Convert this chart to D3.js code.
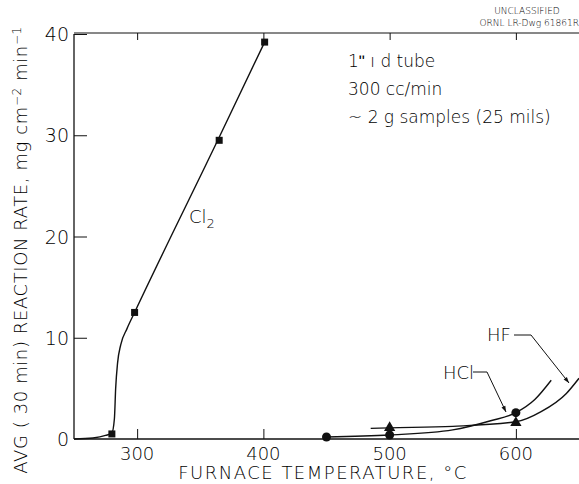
<!DOCTYPE html>
<html>
<head>
<meta charset="utf-8">
<script src="https://cdn.jsdelivr.net/npm/d3@7"></script>
<style>
body { margin: 0; background: #fff; }
text { font-family: "DejaVu Sans", "Liberation Sans", sans-serif; font-weight: 200; fill: #000; }
</style>
</head>
<body>
<script>
// measured points (temperature C, rate mg/cm2/min)
var cl2Temp = [280, 298, 365, 401];
var cl2Rate = [0.5, 12.5, 29.5, 39.2];
var hclTemp = [450, 500, 600];
var hclRate = [0.2, 0.4, 2.6];
var hfTemp = [500, 600];
var hfRate = [1.1, 1.6];

// hand drawn curves
var cl2CurveTemp = [250, 265, 275, 280, 282, 283, 284.5, 287, 292, 298, 365, 401];
var cl2CurveRate = [0, 0.1, 0.35, 0.6, 2, 5, 7.5, 9.3, 10.9, 12.5, 29.8, 39.2];
var hclCurveTemp = [450, 500, 550, 580, 600, 615, 628];
var hclCurveRate = [0.2, 0.4, 0.9, 1.8, 2.6, 3.9, 5.8];
var hfCurveTemp = [485, 500, 550, 600, 620, 640, 650];
var hfCurveRate = [1.05, 1.1, 1.25, 1.7, 2.7, 4.5, 6.0];

var xTicks = [300, 400, 500, 600];
var yTicks = [0, 10, 20, 30, 40];

var noteLines = ["1\u02BA \u0131 d   tube", "300 cc/min", "~ 2 g  samples (25 mils)"];

window.onload = drawChart();

function drawChart(){

    var width = 579,
        height = 484;

    var svg = d3.select("body")
        .append("svg")
        .attr("width", width)
        .attr("height", height);

    var x = d3.scaleLinear().domain([250, 650]).range([74, 579]);
    var y = d3.scaleLinear().domain([0, 40]).range([439, 34]);

    //arrow head for the label leaders
    svg.append("defs").append("marker")
        .attr("id", "arrow")
        .attr("viewBox", "0 0 10 10")
        .attr("refX", 10).attr("refY", 5)
        .attr("markerWidth", 12).attr("markerHeight", 6)
        .attr("markerUnits", "userSpaceOnUse")
        .attr("orient", "auto")
        .append("path")
        .attr("d", "M0,1.5 L10,5 L0,8.5 Z")
        .attr("fill", "#111");

    //frame: left, bottom and top lines
    var frame = svg.append("g").attr("stroke", "#111").attr("fill", "none");
    frame.append("line").attr("x1", x(250)).attr("x2", x(250)).attr("y1", y(0)).attr("y2", y(40)).attr("stroke-width", 1.3);
    frame.append("line").attr("x1", x(250)).attr("x2", width).attr("y1", y(0)).attr("y2", y(0)).attr("stroke-width", 1.3);
    frame.append("line").attr("x1", x(250)).attr("x2", width).attr("y1", y(40) - 1).attr("y2", y(40) - 1).attr("stroke-width", 1);

    //axes, ticks pointing inward
    var xAxis = svg.append("g")
        .attr("transform", "translate(0," + y(0) + ")")
        .call(d3.axisTop(x).tickValues(xTicks).tickSize(10).tickFormat(""));
    xAxis.select(".domain").remove();

    svg.append("g")
        .attr("transform", "translate(0," + (y(40) - 1) + ")")
        .call(d3.axisBottom(x).tickValues(xTicks).tickSize(7).tickFormat(""))
        .select(".domain").remove();

    var yAxis = svg.append("g")
        .attr("transform", "translate(" + x(250) + ",0)")
        .call(d3.axisRight(y).tickValues(yTicks.slice(1)).tickSize(13).tickFormat(""));
    yAxis.select(".domain").remove();
    svg.selectAll(".tick line").attr("stroke", "#111");

    //tick labels
    svg.selectAll(".xlab")
        .data(xTicks)
        .enter()
        .append("text")
        .attr("x", function(d){ return x(d); })
        .attr("y", y(0) + 21)
        .attr("text-anchor", "middle")
        .style("font-size", "18px")
        .text(function(d){ return d; });

    svg.selectAll(".ylab")
        .data(yTicks)
        .enter()
        .append("text")
        .attr("x", x(250) - 5)
        .attr("y", function(d){ return y(d) + 7; })
        .attr("text-anchor", "end")
        .style("font-size", "19px")
        .text(function(d){ return d; });

    //axis titles
    svg.append("text")
        .attr("x", 323)
        .attr("y", 479)
        .attr("text-anchor", "middle")
        .style("font-size", "18px")
        .style("letter-spacing", "1.5px")
        .text("FURNACE TEMPERATURE, \u00B0C");

    var yTitle = svg.append("text")
        .attr("transform", "translate(27,250) rotate(-90)")
        .attr("text-anchor", "middle")
        .style("font-size", "18px")
        .style("letter-spacing", "0.6px");
    yTitle.append("tspan").text("AVG ( 30 min) REACTION RATE, mg cm");
    yTitle.append("tspan").attr("dy", -6).style("font-size", "12px").text("\u22122");
    yTitle.append("tspan").attr("dy", 6).text(" min");
    yTitle.append("tspan").attr("dy", -6).style("font-size", "12px").text("\u22121");

    //drawing stamp
    svg.append("text").attr("x", 527).attr("y", 14).attr("text-anchor", "middle")
        .style("font-size", "9px").text("UNCLASSIFIED");
    svg.append("text").attr("x", 579).attr("y", 26).attr("text-anchor", "end")
        .style("font-size", "9px").text("ORNL  LR-Dwg  61861R");

    //conditions note
    svg.selectAll(".note")
        .data(noteLines)
        .enter()
        .append("text")
        .attr("x", 348)
        .attr("y", function(d, i){ return 67 + i * 28; })
        .style("font-size", "17px")
        .text(function(d){ return d; });

    //curves
    var line = d3.line()
        .x(function(d){ return x(d[0]); })
        .y(function(d){ return y(d[1]); })
        .curve(d3.curveMonotoneX);

    var curves = [
        d3.zip(cl2CurveTemp, cl2CurveRate),
        d3.zip(hclCurveTemp, hclCurveRate),
        d3.zip(hfCurveTemp, hfCurveRate)
    ];

    svg.selectAll(".curve")
        .data(curves)
        .enter()
        .append("path")
        .attr("class", "curve")
        .attr("d", line)
        .attr("fill", "none")
        .attr("stroke", "#111")
        .attr("stroke-width", 1.4);

    //markers
    svg.selectAll(".sq")
        .data(d3.zip(cl2Temp, cl2Rate))
        .enter()
        .append("rect")
        .attr("x", function(d){ return x(d[0]) - 3.5; })
        .attr("y", function(d){ return y(d[1]) - 3.5; })
        .attr("width", 7)
        .attr("height", 7)
        .attr("fill", "#111");

    svg.selectAll(".dot")
        .data(d3.zip(hclTemp, hclRate))
        .enter()
        .append("circle")
        .attr("cx", function(d){ return x(d[0]); })
        .attr("cy", function(d){ return y(d[1]); })
        .attr("r", 4.5)
        .attr("fill", "#111");

    svg.selectAll(".tri")
        .data(d3.zip(hfTemp, hfRate))
        .enter()
        .append("path")
        .attr("d", d3.symbol().type(d3.symbolTriangle).size(55))
        .attr("transform", function(d){ return "translate(" + x(d[0]) + "," + y(d[1]) + ")"; })
        .attr("fill", "#111");

    //series labels
    var cl2 = svg.append("text").attr("x", x(341)).attr("y", y(21.3)).style("font-size", "18px");
    cl2.append("tspan").text("Cl");
    cl2.append("tspan").attr("dy", 5).style("font-size", "13px").text("2");

    svg.append("text").attr("x", 443).attr("y", 379).style("font-size", "18px").text("HCl");
    svg.append("path")
        .attr("d", "M473,372 L487,372 L506,412")
        .attr("fill", "none").attr("stroke", "#111").attr("stroke-width", 1)
        .attr("marker-end", "url(#arrow)");

    svg.append("text").attr("x", 487).attr("y", 341).style("font-size", "18px").text("HF");
    svg.append("path")
        .attr("d", "M514,335 L531,335 L569,383")
        .attr("fill", "none").attr("stroke", "#111").attr("stroke-width", 1)
        .attr("marker-end", "url(#arrow)");
};
</script>
</body>
</html>
